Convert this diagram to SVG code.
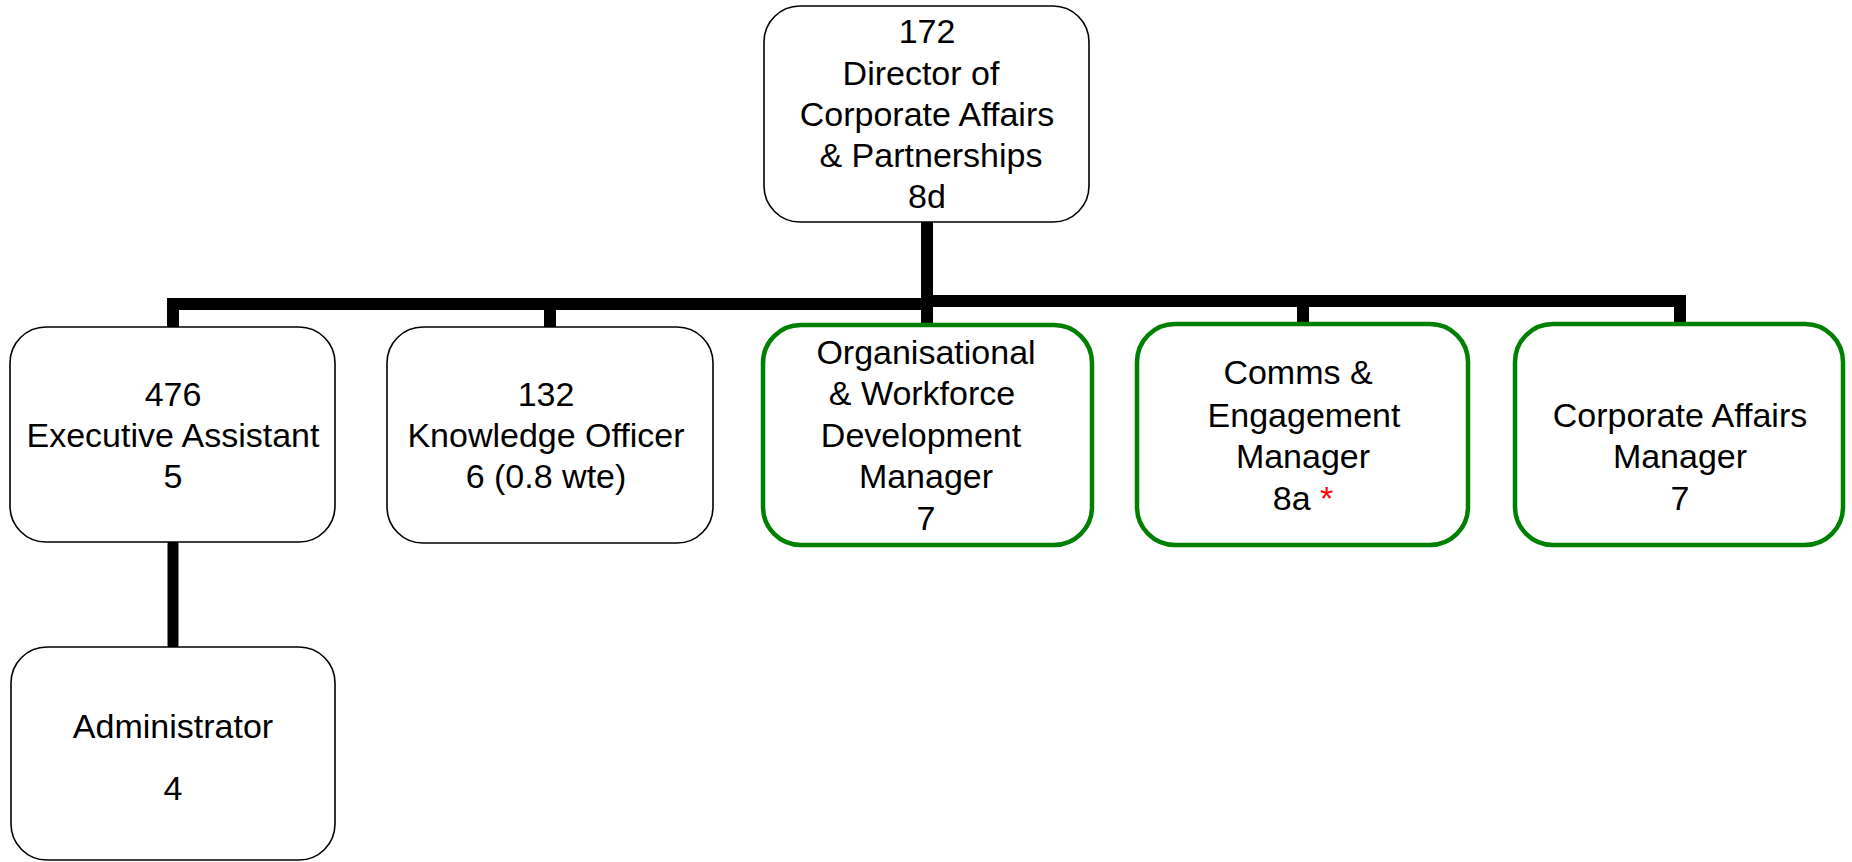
<svg xmlns="http://www.w3.org/2000/svg" width="1852" height="862" viewBox="0 0 1852 862">
<style>
.box{fill:#fff;stroke:#000;stroke-width:1.6}
.gbox{fill:#fff;stroke:#008000;stroke-width:4.5}
.t{font-family:"Liberation Sans",Arial,sans-serif;font-size:34px;fill:#000;text-anchor:middle}
.c{fill:none;stroke:#000;stroke-width:12;stroke-linejoin:miter}
</style>
<rect width="1852" height="862" fill="#fff"/>
<g id="connectors">
<path class="c" d="M173,327 V304 H927"/>
<path class="c" d="M550,304 V327"/>
<path class="c" d="M927,222 V325"/>
<path class="c" d="M927,301 H1680 V324"/>
<path class="c" d="M1303,301 V324"/>
<path class="c" d="M173,544 V645" stroke-linecap="round" style="stroke-width:11"/>
</g>
<g id="n172">
<rect class="box" x="764" y="6" width="325" height="216" rx="36"/>
<text class="t" x="927" y="43">172</text>
<text class="t" x="921" y="85">Director of</text>
<text class="t" x="927" y="126">Corporate Affairs</text>
<text class="t" x="931" y="167">&amp; Partnerships</text>
<text class="t" x="927" y="208">8d</text>
</g>
<g id="n476">
<rect class="box" x="10" y="327" width="325" height="215" rx="36"/>
<text class="t" x="173" y="406">476</text>
<text class="t" x="173" y="447">Executive Assistant</text>
<text class="t" x="173" y="488">5</text>
</g>
<g id="n132">
<rect class="box" x="387" y="327" width="326" height="216" rx="36"/>
<text class="t" x="546" y="406">132</text>
<text class="t" x="546" y="447">Knowledge Officer</text>
<text class="t" x="546" y="488">6 (0.8 wte)</text>
</g>
<g id="nOWD">
<rect class="gbox" x="763" y="325" width="329" height="220" rx="38"/>
<text class="t" x="926" y="364">Organisational</text>
<text class="t" x="922" y="405">&amp; Workforce</text>
<text class="t" x="921" y="447">Development</text>
<text class="t" x="926" y="488">Manager</text>
<text class="t" x="926" y="530">7</text>
</g>
<g id="nComms">
<rect class="gbox" x="1137" y="324" width="331" height="221" rx="38"/>
<text class="t" x="1298" y="384">Comms &amp;</text>
<text class="t" x="1304" y="427">Engagement</text>
<text class="t" x="1303" y="468">Manager</text>
<text class="t" x="1303" y="510">8a <tspan fill="#ff0000">*</tspan></text>
</g>
<g id="nCAM">
<rect class="gbox" x="1515" y="324" width="328" height="221" rx="38"/>
<text class="t" x="1680" y="427">Corporate Affairs</text>
<text class="t" x="1680" y="468">Manager</text>
<text class="t" x="1680" y="510">7</text>
</g>
<g id="nAdmin">
<rect class="box" x="11" y="647" width="324" height="213" rx="36"/>
<text class="t" x="173" y="738">Administrator</text>
<text class="t" x="173" y="800">4</text>
</g>
</svg>
